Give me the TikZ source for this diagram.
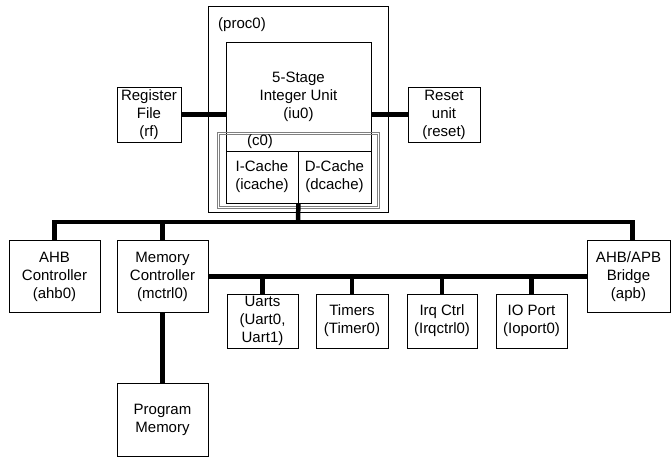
\documentclass[tikz,border=0pt]{standalone}
\usepackage{fontspec}
\setmainfont{Liberation Sans}
\usepackage{tikz}

\tikzset{
  blk/.style={draw, line width=0.8pt, align=center, inner sep=0pt,
    font=\fontsize{15}{18}\selectfont},
  bus/.style={line width=4.5pt},
  lbl/.style={inner sep=0pt, font=\fontsize{15}{18}\selectfont},
  cbox/.style={draw=gray, line width=0.7pt}
}

\begin{document}
\begin{tikzpicture}[x=1pt,y=-1pt]
\useasboundingbox (0,0) rectangle (672,457);
% processor block
\node[blk, minimum width=180, minimum height=206] (proc) at (298,109) {};
\node[lbl] (proclbl) at (242,25) {(proc0)};
\node[blk, minimum width=145, minimum height=109] (iu0) at (298.5,96.5) {5-Stage\\Integer Unit\\(iu0)};
\node[blk, minimum width=72, minimum height=52] (icache) at (262,177) {I-Cache\\(icache)};
\node[blk, minimum width=73, minimum height=52] (dcache) at (334.5,177) {D-Cache\\(dcache)};
% cache wrapper, double grey frame
\node[cbox, minimum width=162, minimum height=76, inner sep=0pt] (c0) at (298,170) {};
\draw[cbox] ([shift={(3,3)}]c0.north west) rectangle ([shift={(-2,-2)}]c0.south east);
\node[lbl] (c0lbl) at (260,142) {(c0)};
\node[blk, minimum width=64, minimum height=55] (rf) at (149,114.5) {Register\\File\\(rf)};
\node[blk, minimum width=72, minimum height=55] (reset) at (444,114.5) {Reset\\unit\\(reset)};
% AHB side
\node[blk, minimum width=91, minimum height=72] (ahb) at (54.5,276.5) {AHB\\Controller\\(ahb0)};
\node[blk, minimum width=91, minimum height=72] (mctrl) at (162.5,276.5) {Memory\\Controller\\(mctrl0)};
\node[blk, minimum width=83, minimum height=72] (apb) at (628.5,276.5) {AHB/APB\\Bridge\\(apb)};
\node[blk, minimum width=91, minimum height=73] (pm) at (162.5,420) {Program\\Memory};
% APB side
\node[blk, minimum width=71, minimum height=54] (uart) at (262.5,321) {Uarts\\(Uart0,\\Uart1)};
\node[blk, minimum width=72, minimum height=54] (timer) at (352,321) {Timers\\(Timer0)};
\node[blk, minimum width=70, minimum height=54] (irq) at (442,321) {Irq Ctrl\\(Irqctrl0)};
\node[blk, minimum width=71, minimum height=54] (ioport) at (531.5,321) {IO Port\\(Ioport0)};
\coordinate (hub) at (298,222);
% buses
\draw[bus] (rf.east) -- (rf.east -| iu0.west);
\draw[bus] (reset.west) -- (reset.west -| iu0.east);
\draw[bus] (icache.south east) -- (hub);
\draw[bus] (ahb.north) |- ([xshift=4pt]apb.north |- hub) -- ([xshift=4pt]apb.north);
\draw[bus] (mctrl.north) -- (mctrl.north |- hub);
\draw[bus] (mctrl.east) -- (apb.west);
\draw[bus] (mctrl.south) -- (pm.north);
\foreach \n in {uart,timer,irq,ioport}
\draw[bus] (\n.north) -- (\n.north |- mctrl.east);
\end{tikzpicture}
\end{document}
